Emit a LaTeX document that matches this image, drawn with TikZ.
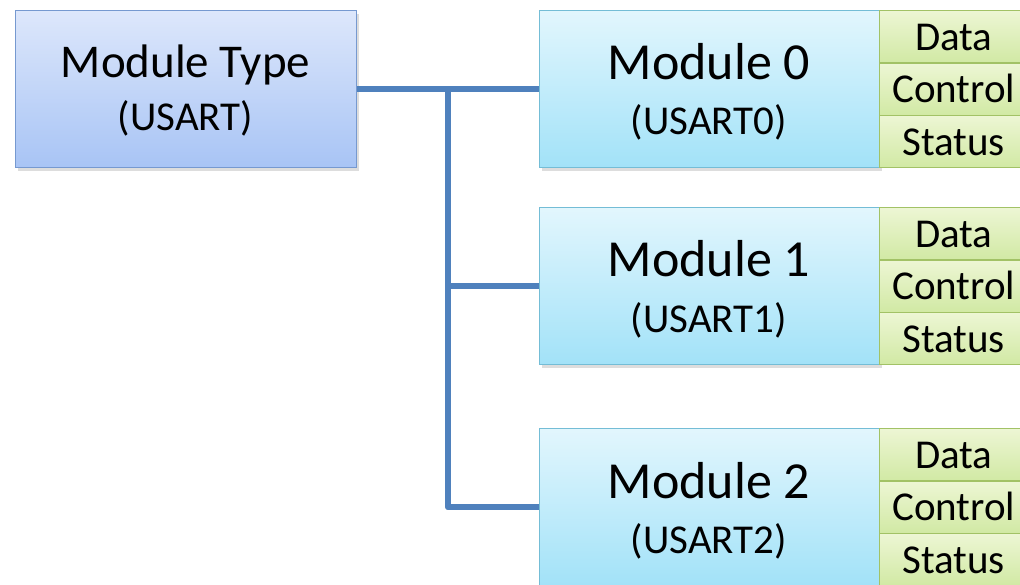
\documentclass[tikz,border=0pt]{standalone}
\usepackage{fontspec}
\setmainfont{Carlito}
\usetikzlibrary{shadows}

\definecolor{typetop}{HTML}{DDE7FB}
\definecolor{typebot}{HTML}{A8C4F5}
\definecolor{typeline}{HTML}{7699D0}
\definecolor{modtop}{HTML}{E2F6FD}
\definecolor{modbot}{HTML}{A2E2F8}
\definecolor{modline}{HTML}{74BDD6}
\definecolor{regtop}{HTML}{EDF6D4}
\definecolor{regbot}{HTML}{D1E9A4}
\definecolor{regline}{HTML}{A2C266}
\definecolor{busblue}{HTML}{4F81BD}

\tikzset{
  boxshadow/.style={drop shadow={shadow xshift=2pt,shadow yshift=-3pt,opacity=0.22,fill=black!60}},
  mtbox/.style={draw=typeline, line width=1.4pt, top color=typetop, bottom color=typebot,
    minimum width=341pt, minimum height=157pt, inner sep=0pt, anchor=north west, boxshadow},
  modbox/.style={draw=modline, line width=1.4pt, top color=modtop, bottom color=modbot,
    minimum width=340pt, minimum height=157pt, inner sep=0pt, anchor=north west, boxshadow},
  regcell/.style={draw=regline, line width=1.4pt, top color=regtop, bottom color=regbot,
    minimum width=148pt, minimum height=52.33pt, inner sep=0pt, anchor=north west,
    font=\fontsize{41}{41}\selectfont, text height=27.6pt, text depth=0pt},
  bigtitle/.style={anchor=base, inner sep=0pt, font=\fontsize{#1}{#1}\selectfont},
  subtitle/.style={anchor=base, inner sep=0pt, font=\fontsize{41}{41}\selectfont},
  bus/.style={draw=busblue, line width=6pt, line join=round},
  busshadow/.style={draw=black, opacity=0.15, line width=6pt, line join=round}
}

\begin{document}
\begin{tikzpicture}[x=1pt,y=-1pt]
\useasboundingbox (0,0) rectangle (1020,585);
\clip (0,0) rectangle (1020,585);

% parent block
\node[mtbox] (mt) at (15,10) {};
\node[bigtitle=47] (mtt) at (185.5,78) {Module Type};
\node[subtitle] (mts) at (185.5,131) {(USART)};

% module instances with their registers
\foreach \i/\top in {0/10,1/207,2/428}{
  \node[modbox] (m\i) at (539,\top) {};
  \node[bigtitle=52] (m\i t) at (709,\top+70) {Module \i};
  \node[subtitle] (m\i s) at (709,\top+125) {(USART\i)};
  \node[regcell] (m\i a) at (879,\top) {Data};
  \node[regcell] (m\i b) at (879,\top+52.33) {Control};
  \node[regcell] (m\i c) at (879,\top+104.67) {Status};
}

% bus from the type to each instance
\coordinate (j0) at (448,89);
\begin{scope}[xshift=2pt,yshift=-3pt]
  \draw[busshadow] (j0) -- (j0 |- m2.west) -- (m2.west);
\end{scope}
\draw[bus] (mt.east) -- (m0.west);
\draw[bus] (j0) -- (j0 |- m2.west) -- (m2.west);
\draw[bus] (j0 |- m1.west) -- (m1.west);
\end{tikzpicture}
\end{document}
